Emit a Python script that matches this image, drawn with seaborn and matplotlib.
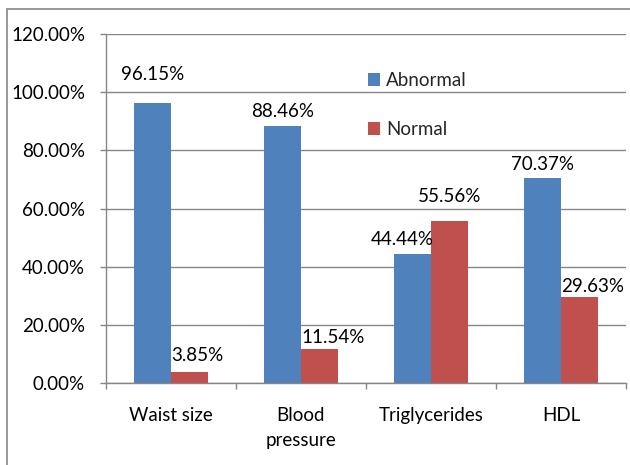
import matplotlib
matplotlib.use("Agg")
import matplotlib.pyplot as plt
import seaborn as sns
import pandas as pd
from matplotlib.patches import Rectangle
from matplotlib.ticker import FuncFormatter, FixedLocator

categories = ["Waist size", "Blood\npressure", "Triglycerides", "HDL"]
series_names = ["Abnormal", "Normal"]
abnormal = [96.15, 88.46, 44.44, 70.37]
normal = [3.85, 11.54, 55.56, 29.63]
y_ticks = [0, 20, 40, 60, 80, 100, 120]

# label offsets (pixels) relative to bar top-centre: (dx, dy to baseline)
abn_offsets = [(0.5, 23), (0, 9), (-10, 9), (0.5, 8.5)]
nor_offsets = [(8, 11), (14, 6.5), (0.5, 19), (13.5, 5)]

colors = ["#4F81BD", "#C0504D"]
grey = "#868686"

sns.set_theme(style="white")
plt.rcParams["font.family"] = ["Lato", "DejaVu Sans"]
FS = 13.5

df = pd.DataFrame({
    "category": categories * 2,
    "series": [series_names[0]] * 4 + [series_names[1]] * 4,
    "value": abnormal + normal,
})

fig = plt.figure(figsize=(6.3, 4.65), dpi=100)
ax = fig.add_axes([106 / 630, 1 - 383 / 465, 520 / 630, 349 / 465])

sns.barplot(data=df, x="category", y="value", hue="series", order=categories,
            hue_order=series_names, palette=colors, width=0.57, ax=ax,
            saturation=1, edgecolor="none", linewidth=0, legend=True)

ax.set_ylim(0, 120)
ax.set_xlim(-0.5, 3.5)
ax.yaxis.set_major_locator(FixedLocator(y_ticks))
ax.yaxis.set_major_formatter(FuncFormatter(lambda v, p: f"{v:.2f}%"))
ax.grid(axis="y", color=grey, linewidth=1.0)
ax.set_axisbelow(True)
ax.set_xlabel("")
ax.set_ylabel("")

for s in ["top", "right"]:
    ax.spines[s].set_visible(False)
for s in ["left", "bottom"]:
    ax.spines[s].set_color(grey)
    ax.spines[s].set_linewidth(1.0)

ax.tick_params(axis="y", which="major", length=4.3, width=1.0, color=grey,
               direction="out", left=True, labelsize=FS, pad=10.8, labelcolor="black")
ax.tick_params(axis="x", which="major", length=0, labelsize=FS, pad=17, labelcolor="black")
ax.xaxis.set_minor_locator(FixedLocator([-0.5, 0.5, 1.5, 2.5, 3.5]))
ax.tick_params(axis="x", which="minor", length=4.3, width=1.0, color=grey,
               direction="out", bottom=True)
for t in ax.get_xticklabels():
    t.set_linespacing(1.6)

# data labels
conts = ax.containers
for cont, vals, offs in zip(conts, [abnormal, normal], [abn_offsets, nor_offsets]):
    for bar, v, (dx, dy) in zip(cont, vals, offs):
        xc = bar.get_x() + bar.get_width() / 2
        ax.annotate(f"{v:.2f}%", (xc, v), xytext=(dx, dy),
                    textcoords="offset pixels", ha="center", va="baseline",
                    fontsize=FS, color="black", annotation_clip=False)

# legend
handles, labels = ax.get_legend_handles_labels()
ax.legend(handles, labels, loc="upper left",
          bbox_to_anchor=(368 / 630, 1 - 72 / 465), bbox_transform=fig.transFigure,
          frameon=False, fontsize=FS, handlelength=0.65, handleheight=0.65,
          handletextpad=0.3, labelspacing=1.72, borderpad=0, borderaxespad=0)

# outer chart frame
fig.patches.append(Rectangle((7 / 630, -0.01), 1.0, 1 - 9 / 465 + 0.01,
                             transform=fig.transFigure, fill=False,
                             edgecolor=grey, linewidth=1.2))

fig.savefig("out.png", dpi=100)
